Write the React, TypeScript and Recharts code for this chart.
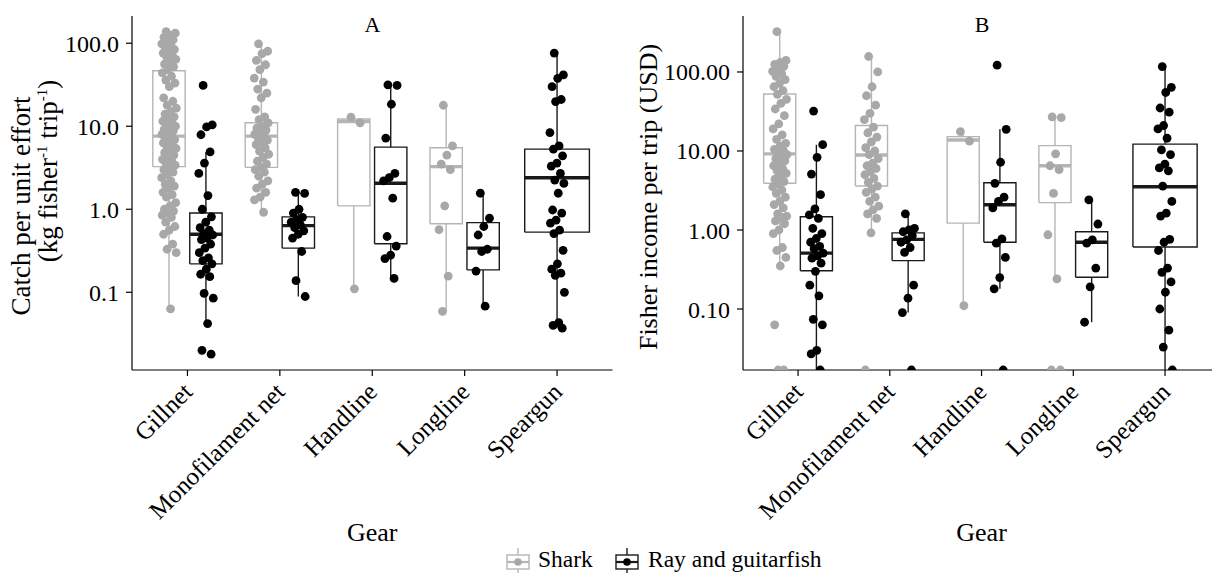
import React from "react";
import { ComposedChart, Scatter, XAxis, YAxis } from "recharts";

const GEARS = ["Gillnet", "Monofilament net", "Handline", "Longline", "Speargun"];
const SPECIES = ["Shark", "Ray and guitarfish"];

// ---------- Panel A: catch per unit effort (kg fisher^-1 trip^-1) ----------
const CPUE_SHARK_GILLNET = [138, 132, 125, 118, 110, 104, 98, 92, 88, 84, 80, 76, 72, 68, 64, 60, 56, 52, 48, 44, 40, 36, 33, 30, 22, 20, 18, 16.5, 15, 14, 13, 12, 11.5, 11, 10.5, 10, 9.6, 9.2, 8.8, 8.4, 8, 7.6, 7.2, 6.9, 6.6, 6.3, 6, 5.7, 5.4, 5.1, 4.8, 4.5, 4.2, 4, 3.8, 3.6, 3.4, 3.2, 3, 2.8, 2.6, 2.4, 2.2, 2, 1.9, 1.8, 1.6, 1.5, 1.4, 1.2, 1.1, 1.0, 0.95, 0.9, 0.85, 0.8, 0.7, 0.62, 0.56, 0.5, 0.38, 0.33, 0.3, 0.063];
const CPUE_SHARK_MONO = [98, 80, 75, 62, 55, 48, 38, 34, 28, 25, 22, 16, 13, 12, 11, 10.2, 9.5, 9, 8.5, 8, 7.6, 7.2, 6.8, 6.4, 6, 5.5, 5, 4.6, 4.2, 3.8, 3.5, 3.2, 3, 2.8, 2.5, 2.2, 2, 1.8, 1.6, 1.4, 1.3, 0.92];
const CPUE_SHARK_HAND = [12.9, 11.0, 0.11];
const CPUE_SHARK_LONG = [17.9, 5.8, 4.5, 3.5, 3.0, 1.1, 0.57, 0.157, 0.059];
const CPUE_SHARK_SPEAR: number[] = [];

const CPUE_RAY_GILLNET = [31, 10.4, 9.8, 7.9, 4.9, 3.6, 2.7, 1.46, 1.0, 0.81, 0.7, 0.6, 0.56, 0.51, 0.49, 0.45, 0.43, 0.38, 0.34, 0.3, 0.26, 0.24, 0.22, 0.19, 0.165, 0.154, 0.097, 0.085, 0.042, 0.02, 0.018];
const CPUE_RAY_MONO = [1.6, 1.55, 1.0, 0.9, 0.8, 0.75, 0.7, 0.65, 0.6, 0.55, 0.5, 0.45, 0.31, 0.138, 0.089];
const CPUE_RAY_HAND = [31.5, 31, 18.4, 7.2, 2.7, 2.4, 2.2, 1.36, 0.47, 0.36, 0.28, 0.255, 0.147];
const CPUE_RAY_LONG = [1.56, 0.78, 0.62, 0.49, 0.33, 0.31, 0.18, 0.068];
const CPUE_RAY_SPEAR = [76, 41.5, 37.8, 30, 21, 19.8, 8.4, 5.8, 5.3, 4.4, 3.6, 3.3, 2.7, 2.25, 2.05, 1.56, 0.98, 0.9, 0.74, 0.68, 0.56, 0.51, 0.32, 0.22, 0.19, 0.17, 0.16, 0.1, 0.043, 0.04, 0.037];

// box stats per gear: [lower whisker, Q1, median, Q3, upper whisker]
const CPUE_SHARK_BOX = [[0.063, 3.26, 7.6, 46.5, 138], [0.92, 3.2, 7.6, 11, 98], [0.11, 1.1, 11.4, 12.2, 12.2], [0.059, 0.67, 3.26, 5.5, 17.9], null];
const CPUE_RAY_BOX = [[0.042, 0.22, 0.5, 0.9, 4.9], [0.089, 0.34, 0.635, 0.81, 1.6], [0.147, 0.385, 2.06, 5.6, 31.5], [0.068, 0.186, 0.34, 0.69, 1.56], [0.037, 0.53, 2.4, 5.3, 76]];

const CPUE_TICKS = [0.1, 1, 10, 100];

// ---------- Panel B: fisher income per trip (USD) ----------
const INCOME_SHARK_GILLNET = [324, 140, 132, 125, 118, 110, 102, 95, 88, 80, 72, 65, 58, 52, 45, 40, 34, 28, 22, 19, 16, 14, 12.5, 11.5, 10.5, 10, 9.5, 9, 8.5, 8, 7.5, 7, 6.5, 6, 5.6, 5.2, 4.8, 4.4, 4.1, 3.8, 3.5, 3.2, 2.9, 2.6, 2.3, 2.1, 1.9, 1.6, 1.5, 1.45, 1.3, 1.2, 1.0, 0.9, 0.6, 0.55, 0.45, 0.35, 0.063, 0, 0];
const INCOME_SHARK_MONO = [157, 100, 65, 50, 38, 30, 25, 20, 17, 15, 13, 11, 10, 9, 8, 7, 6.5, 6, 5.5, 5, 4.5, 4, 3.6, 3.3, 3, 2.6, 2.3, 2, 1.8, 1.6, 1.4, 0.92, 0];
const INCOME_SHARK_HAND = [17.6, 13.3, 0.11];
const INCOME_SHARK_LONG = [27, 26.5, 9.2, 6.5, 5.8, 2.9, 0.87, 0.24, 0, 0];
const INCOME_SHARK_SPEAR: number[] = [];

const INCOME_RAY_GILLNET = [32, 12, 8.3, 5.1, 2.8, 1.85, 1.55, 1.4, 1.05, 0.9, 0.78, 0.7, 0.62, 0.58, 0.51, 0.47, 0.44, 0.38, 0.3, 0.2, 0.147, 0.074, 0.063, 0.03, 0.027, 0];
const INCOME_RAY_MONO = [1.6, 1.05, 1.0, 0.95, 0.85, 0.75, 0.7, 0.6, 0.52, 0.2, 0.137, 0.09, 0];
const INCOME_RAY_HAND = [122, 18.8, 7.2, 3.9, 2.6, 2.3, 1.9, 0.77, 0.68, 0.45, 0.25, 0.18, 0];
const INCOME_RAY_LONG = [2.4, 1.19, 0.75, 0.68, 0.33, 0.19, 0.068];
const INCOME_RAY_SPEAR = [117, 64, 55, 35, 31, 21, 19, 14.5, 10.3, 9, 6.8, 6.1, 5.6, 3.6, 2.3, 1.63, 1.5, 0.76, 0.7, 0.55, 0.33, 0.29, 0.22, 0.163, 0.1, 0.054, 0.033, 0];

const INCOME_SHARK_BOX = [[0.35, 3.9, 9.2, 52.7, 324], [0.92, 3.6, 8.9, 21, 157], [0.11, 1.22, 13.8, 15.2, 17.6], [0.24, 2.22, 6.5, 11.7, 27], null];
const INCOME_RAY_BOX = [[0, 0.305, 0.51, 1.47, 12], [0.09, 0.41, 0.76, 0.92, 1.6], [0.18, 0.7, 2.09, 3.97, 18.8], [0.068, 0.252, 0.7, 0.95, 2.4], [0, 0.61, 3.53, 12.2, 117]];

const INCOME_TICKS = [0.1, 1, 10, 100];

// ---------- styling ----------
const FONT = "'Liberation Serif', 'Times New Roman', 'DejaVu Serif', serif";
const SHARK_PT = "#A8A8A8";
const SHARK_LINE = "#B5B5B5";
const RAY_PT = "#000000";
const RAY_LINE = "#1A1A1A";
const JIT = 0.08;

type Box = number[] | null;

const jitter = (i: number) => (((i * 0.6180339887 + 0.31) % 1) - 0.5) * 2 * JIT;
const Empty = () => <g />;

function GearTick(props: any) {
  const { x, y, payload } = props;
  const label = GEARS[Math.round(payload.value) - 1];
  const ax = x - 6;
  const ay = y + 3;
  return (
    <text
      x={ax}
      y={ay}
      transform={`rotate(-45, ${ax}, ${ay})`}
      textAnchor="end"
      dominantBaseline="hanging"
      fontFamily={FONT}
      fontSize={25}
      fill="#000"
    >
      {label}
    </text>
  );
}

interface PanelProps {
  left: number;
  yAxisWidth: number;
  marginRight: number;
  domain: [number, number];
  ticks: number[];
  decimals: number;
  shark: number[][];
  ray: number[][];
  sharkBox: Box[];
  rayBox: Box[];
  yLabel: (vb: any) => React.ReactNode;
}

function Panel(p: PanelProps) {
  const lo = p.domain[0];
  const cl = (v: number) => Math.max(v, lo);
  const boxes: React.ReactNode[] = [];
  const points: React.ReactNode[] = [];

  GEARS.forEach((_, gi) => {
    const sb = p.sharkBox[gi];
    const rb = p.rayBox[gi];
    const both = sb != null && rb != null;
    const groups: any[] = [];
    if (sb) groups.push({ box: sb, pts: p.shark[gi], c: both ? gi + 1 - 0.2 : gi + 1, hw: both ? 0.175 : 0.35, line: SHARK_LINE, pt: SHARK_PT, k: `s${gi}` });
    if (rb) groups.push({ box: rb, pts: p.ray[gi], c: both ? gi + 1 + 0.2 : gi + 1, hw: both ? 0.175 : 0.35, line: RAY_LINE, pt: RAY_PT, k: `r${gi}` });
    groups.forEach((g) => {
      const [lw, q1, med, q3, uw] = g.box.map(cl);
      const a = g.c - g.hw;
      const b = g.c + g.hw;
      boxes.push(
        <Scatter key={`${g.k}-wl`} data={[{ x: g.c, y: lw }, { x: g.c, y: q1 }]} line={{ stroke: g.line, strokeWidth: 1.4 }} lineType="joint" shape={Empty} isAnimationActive={false} />,
        <Scatter key={`${g.k}-wu`} data={[{ x: g.c, y: q3 }, { x: g.c, y: uw }]} line={{ stroke: g.line, strokeWidth: 1.4 }} lineType="joint" shape={Empty} isAnimationActive={false} />,
        <Scatter key={`${g.k}-box`} data={[{ x: a, y: q1 }, { x: b, y: q1 }, { x: b, y: q3 }, { x: a, y: q3 }, { x: a, y: q1 }]} line={{ stroke: g.line, strokeWidth: 1.4, strokeLinejoin: "miter" }} lineType="joint" shape={Empty} isAnimationActive={false} />,
        <Scatter key={`${g.k}-med`} data={[{ x: a, y: med }, { x: b, y: med }]} line={{ stroke: g.line, strokeWidth: 3.4 }} lineType="joint" shape={Empty} isAnimationActive={false} />
      );
      const color = g.pt;
      points.push(
        <Scatter
          key={`${g.k}-pts`}
          data={g.pts.map((v: number, i: number) => ({ x: g.c + jitter(i), y: cl(v) }))}
          shape={(sp: any) => <circle cx={sp.cx} cy={sp.cy} r={4.4} fill={color} />}
          isAnimationActive={false}
        />
      );
    });
  });

  return (
    <div style={{ position: "absolute", left: p.left, top: 0 }}>
      <ComposedChart width={620} height={573} margin={{ top: 16, right: p.marginRight, bottom: 0, left: 0 }}>
        <XAxis
          type="number"
          dataKey="x"
          domain={[0.4, 5.6]}
          ticks={[1, 2, 3, 4, 5]}
          interval={0}
          allowDataOverflow
          height={203}
          tick={GearTick}
          tickSize={6}
          axisLine={{ stroke: "#000", strokeWidth: 1.2 }}
          tickLine={{ stroke: "#000", strokeWidth: 1.2 }}
          label={(lp: any) => {
            const vb = lp.viewBox || { x: p.yAxisWidth, y: 370, width: 480, height: 203 };
            return (
              <text x={vb.x + vb.width / 2} y={vb.y + 171} textAnchor="middle" fontFamily={FONT} fontSize={26} fill="#000">
                Gear
              </text>
            );
          }}
        />
        <YAxis
          type="number"
          dataKey="y"
          scale="log"
          domain={p.domain}
          ticks={p.ticks}
          interval={0}
          allowDataOverflow
          width={p.yAxisWidth}
          tickFormatter={(v: number) => v.toFixed(p.decimals)}
          tick={{ fontFamily: FONT, fontSize: 24, fill: "#000" }}
          tickSize={6}
          tickMargin={7}
          axisLine={{ stroke: "#000", strokeWidth: 1.2 }}
          tickLine={{ stroke: "#000", strokeWidth: 1.2 }}
          label={(lp: any) => p.yLabel(lp.viewBox)}
        />
        {boxes}
        {points}
      </ComposedChart>
    </div>
  );
}

function CpueLabel() {
  const sup = (s: string) => (
    <tspan dy={-10} fontSize={15}>
      {s}
    </tspan>
  );
  return (
    <g fontFamily={FONT} fontSize={27} fill="#000">
      <text x={30} y={206} transform="rotate(-90, 30, 206)" textAnchor="middle">
        Catch per unit effort
      </text>
      <text x={57} y={171} transform="rotate(-90, 57, 171)" textAnchor="middle">
        (kg fisher{sup("-1")}
        <tspan dy={10}> trip</tspan>
        {sup("-1")}
        <tspan dy={10}>)</tspan>
      </text>
    </g>
  );
}

function IncomeLabel() {
  return (
    <text x={47} y={197} transform="rotate(-90, 47, 197)" textAnchor="middle" fontFamily={FONT} fontSize={26} fill="#000">
      Fisher income per trip (USD)
    </text>
  );
}

function LegendKey({ x, line, pt }: { x: number; line: string; pt: string }) {
  return (
    <g>
      <line x1={x + 11} x2={x + 11} y1={18} y2={43} stroke={line} strokeWidth={1.4} />
      <rect x={x} y={25} width={22} height={14} fill="#fff" stroke={line} strokeWidth={1.4} />
      <line x1={x} x2={x + 22} y1={32} y2={32} stroke={line} strokeWidth={2.2} />
      <circle cx={x + 11} cy={32} r={3.8} fill={pt} />
    </g>
  );
}

export default function App() {
  return (
    <div style={{ position: "fixed", left: 0, top: 0, width: 1212, height: 573, overflow: "hidden", background: "#fff" }}>
      <Panel
        left={0}
        yAxisWidth={132}
        marginRight={7.5}
        domain={[0.01159, 212.7]}
        ticks={CPUE_TICKS}
        decimals={1}
        shark={[CPUE_SHARK_GILLNET, CPUE_SHARK_MONO, CPUE_SHARK_HAND, CPUE_SHARK_LONG, CPUE_SHARK_SPEAR]}
        ray={[CPUE_RAY_GILLNET, CPUE_RAY_MONO, CPUE_RAY_HAND, CPUE_RAY_LONG, CPUE_RAY_SPEAR]}
        sharkBox={CPUE_SHARK_BOX}
        rayBox={CPUE_RAY_BOX}
        yLabel={() => <CpueLabel />}
      />
      <Panel
        left={610}
        yAxisWidth={133}
        marginRight={9.9}
        domain={[0.0169, 511]}
        ticks={INCOME_TICKS}
        decimals={2}
        shark={[INCOME_SHARK_GILLNET, INCOME_SHARK_MONO, INCOME_SHARK_HAND, INCOME_SHARK_LONG, INCOME_SHARK_SPEAR]}
        ray={[INCOME_RAY_GILLNET, INCOME_RAY_MONO, INCOME_RAY_HAND, INCOME_RAY_LONG, INCOME_RAY_SPEAR]}
        sharkBox={INCOME_SHARK_BOX}
        rayBox={INCOME_RAY_BOX}
        yLabel={() => <IncomeLabel />}
      />
      <svg style={{ position: "absolute", left: 0, top: 0, pointerEvents: "none" }} width={1212} height={573}>
        <text x={372.5} y={32} textAnchor="middle" fontFamily={FONT} fontSize={22} fill="#000">A</text>
        <text x={982} y={32} textAnchor="middle" fontFamily={FONT} fontSize={22} fill="#000">B</text>
        <g transform="translate(0,530)">
          <LegendKey x={507} line={SHARK_LINE} pt={SHARK_PT} />
          <text x={538} y={37} fontFamily={FONT} fontSize={23.5} fill="#000">{SPECIES[0]}</text>
          <LegendKey x={616} line={RAY_LINE} pt={RAY_PT} />
          <text x={648} y={37} fontFamily={FONT} fontSize={23.5} fill="#000">{SPECIES[1]}</text>
        </g>
      </svg>
    </div>
  );
}
